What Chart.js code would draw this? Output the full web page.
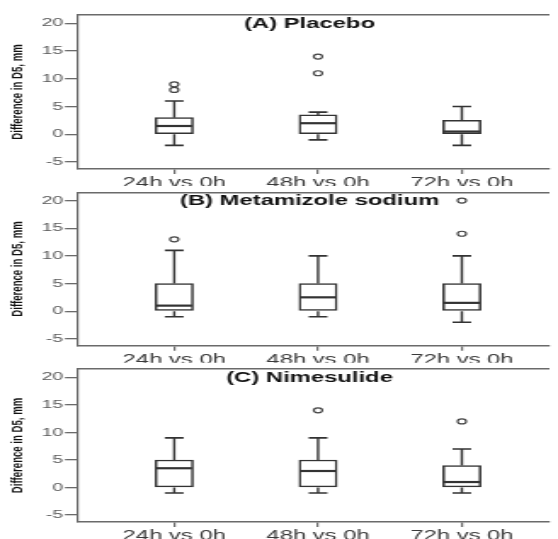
<!DOCTYPE html>
<html><head><meta charset="utf-8">
<script src="https://cdn.jsdelivr.net/npm/chart.js@4.4.1/dist/chart.umd.min.js"></script>
<style>
html,body{margin:0;padding:0;background:#fff;width:558px;height:539px;overflow:hidden;position:relative}
.panel{position:absolute;left:0;width:328px;transform:scaleX(1.70122);transform-origin:0 0}
.panel canvas{display:block}
</style></head><body>
<div class="panel" style="top:0px;height:190px"><canvas id="cA" width="328" height="190"></canvas></div>
<div class="panel" style="top:177px;height:190px"><canvas id="cB" width="328" height="190"></canvas></div>
<div class="panel" style="top:354px;height:185px"><canvas id="cC" width="328" height="185"></canvas></div>
<script>
// ---- data ----
const categories = ['24h vs 0h', '48h vs 0h', '72h vs 0h'];
const panelTitles = ['(A) Placebo', '(B) Metamizole sodium', '(C) Nimesulide'];
const yAxisTitle = 'Difference in D5, mm';
const yTickValues = [-5, 0, 5, 10, 15, 20];

const placeboMin = [-2, -1, -2];
const placeboQ1 = [0, 0, 0];
const placeboMedian = [1.5, 2, 0.5];
const placeboQ3 = [3, 3.5, 2.5];
const placeboMax = [6, 4, 5];
const placeboOutliers = [[8, 9], [11, 14], []];

const metamizoleMin = [-1, -1, -2];
const metamizoleQ1 = [0, 0, 0];
const metamizoleMedian = [1, 2.5, 1.5];
const metamizoleQ3 = [5, 5, 5];
const metamizoleMax = [11, 10, 10];
const metamizoleOutliers = [[13], [], [14, 20]];

const nimesulideMin = [-1, -1, -1];
const nimesulideQ1 = [0, 0, 0];
const nimesulideMedian = [3.5, 3, 1];
const nimesulideQ3 = [5, 5, 4];
const nimesulideMax = [9, 9, 7];
const nimesulideOutliers = [[], [14], [12]];

// ---- drawing ----
const LINE = '#333';
const AXIS = '#6a6a6a';
const BOX_W = 22.3;
const CAP_W = 11;

function makePanel(canvasId, title, st, padTop, padBottom) {
  const partsPlugin = {
    id: 'boxParts_' + canvasId,
    afterDatasetsDraw(chart) {
      const { ctx, scales: { x, y } } = chart;
      ctx.save();
      ctx.strokeStyle = LINE;
      categories.forEach((c, i) => {
        const cx = x.getPixelForValue(i + 1);
        const half = BOX_W / 2, cap = CAP_W / 2;
        const yq1 = y.getPixelForValue(st.q1[i]);
        const yq3 = y.getPixelForValue(st.q3[i]);
        const ymin = y.getPixelForValue(st.min[i]);
        const ymax = y.getPixelForValue(st.max[i]);
        const ymed = y.getPixelForValue(st.median[i]);
        ctx.lineWidth = 1.4;
        ctx.beginPath();
        ctx.moveTo(cx, yq3); ctx.lineTo(cx, ymax);
        ctx.moveTo(cx, yq1); ctx.lineTo(cx, ymin);
        ctx.stroke();
        ctx.lineWidth = 1.6;
        ctx.beginPath();
        ctx.moveTo(cx - cap, ymax); ctx.lineTo(cx + cap, ymax);
        ctx.moveTo(cx - cap, ymin); ctx.lineTo(cx + cap, ymin);
        ctx.stroke();
        ctx.lineWidth = 2.2;
        ctx.beginPath();
        ctx.moveTo(cx - half + 0.7, ymed); ctx.lineTo(cx + half - 0.7, ymed);
        ctx.stroke();
      });
      ctx.fillStyle = '#111';
      ctx.font = 'bold 14px "Liberation Sans", Arial, sans-serif';
      ctx.textAlign = 'center';
      ctx.textBaseline = 'middle';
      ctx.fillText(title, x.getPixelForValue(2) - 5, chart.chartArea.top + 9);
      ctx.restore();
    }
  };

  const boxData = categories.map((c, i) => ({ x: i + 1, y: [st.q1[i], st.q3[i]] }));
  const outlierData = st.outliers.flatMap((arr, i) => arr.map(v => ({ x: i + 1, y: v })));

  return new Chart(document.getElementById(canvasId), {
    type: 'bar',
    data: {
      datasets: [
        {
          type: 'bar', data: boxData,
          backgroundColor: '#fff', borderColor: LINE, borderWidth: 1.5,
          borderSkipped: false, barThickness: BOX_W
        },
        {
          type: 'scatter', data: outlierData, showLine: false,
          pointStyle: 'circle', pointRadius: 2.5, pointBorderWidth: 1.2,
          pointBorderColor: '#444', pointBackgroundColor: '#fff'
        }
      ]
    },
    plugins: [partsPlugin],
    options: {
      responsive: false,
      animation: false,
      layout: { padding: { top: padTop, bottom: padBottom, left: 0, right: 0 } },
      plugins: { legend: { display: false }, tooltip: { enabled: false } },
      scales: {
        x: {
          type: 'linear', position: 'bottom', offset: false,
          min: 0.328, max: 3.607,
          afterFit: s => { s.height = 17; },
          afterBuildTicks: s => { s.ticks = categories.map((c, i) => ({ value: i + 1 })); },
          ticks: {
            autoSkip: false, maxRotation: 0, minRotation: 0,
            padding: 1, color: '#3a3a3a',
            font: { family: '"Liberation Sans", Arial, sans-serif', size: 14 },
            callback: v => categories[Math.round(v) - 1] || ''
          },
          grid: { display: true, offset: false, drawOnChartArea: false, drawTicks: true, tickLength: 5, color: AXIS, lineWidth: 1.2 },
          border: { display: true, color: AXIS, width: 1.5 }
        },
        xTop: {
          type: 'linear', position: 'top', axis: 'x', min: 0, max: 1,
          afterFit: s => { s.height = 0; },
          ticks: { display: false },
          grid: { display: false },
          border: { display: true, color: AXIS, width: 1.5 }
        },
        y: {
          type: 'linear', position: 'left',
          min: -6.25, max: 21.5,
          afterFit: s => { s.width = 45.6; },
          afterBuildTicks: s => { s.ticks = yTickValues.map(v => ({ value: v })); },
          ticks: {
            padding: 1, color: '#5a5a5a',
            font: { family: '"Liberation Sans", Arial, sans-serif', size: 11.5 }
          },
          grid: { display: true, drawOnChartArea: false, drawTicks: true, tickLength: 7.4, color: AXIS, lineWidth: 1.3 },
          border: { display: true, color: AXIS, width: 1.2 },
          title: {
            display: true, text: yAxisTitle, color: '#111',
            font: { family: '"Liberation Sans", Arial, sans-serif', size: 9.6, weight: 'bold' },
            padding: { top: 4.9, bottom: 0 }
          }
        }
      }
    }
  });
}

makePanel('cA', panelTitles[0], {
  min: placeboMin, q1: placeboQ1, median: placeboMedian, q3: placeboQ3, max: placeboMax, outliers: placeboOutliers
}, 15, 4);
makePanel('cB', panelTitles[1], {
  min: metamizoleMin, q1: metamizoleQ1, median: metamizoleMedian, q3: metamizoleQ3, max: metamizoleMax, outliers: metamizoleOutliers
}, 15.3, 4.3);
makePanel('cC', panelTitles[2], {
  min: nimesulideMin, q1: nimesulideQ1, median: nimesulideMedian, q3: nimesulideQ3, max: nimesulideMax, outliers: nimesulideOutliers
}, 15, 0);
</script>
</body></html>
